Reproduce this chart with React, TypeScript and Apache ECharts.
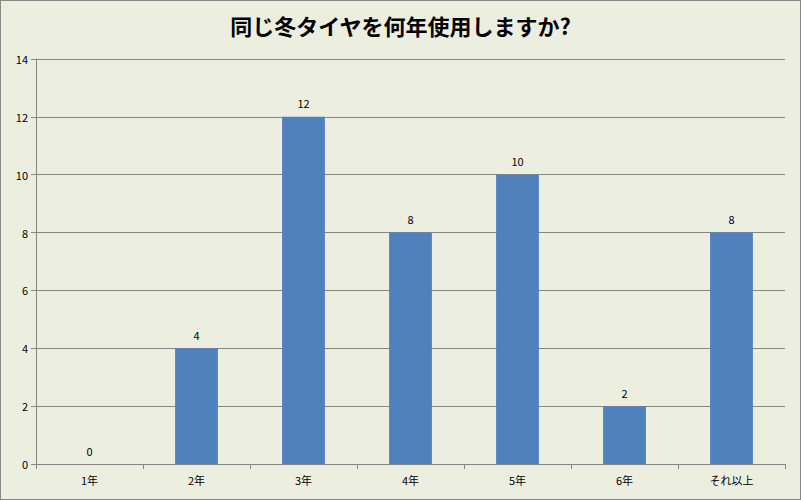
import { useEffect, useRef } from 'react';
import * as echarts from 'echarts';

const categories = ['1年', '2年', '3年', '4年', '5年', '6年', 'それ以上'];
const counts = [0, 4, 12, 8, 10, 2, 8];
const titleText = '同じ冬タイヤを何年使用しますか?';

const FONT = '"Noto Sans CJK JP", "DejaVu Sans", sans-serif';
const AXIS_COLOR = '#868686';

export default function App() {
  const chartRef = useRef<HTMLDivElement>(null);

  useEffect(() => {
    document.body.style.margin = '0';
    if (!chartRef.current) return;
    const chart = echarts.init(chartRef.current, undefined, { renderer: 'svg' });

    const option: echarts.EChartsOption = {
      animation: false,
      backgroundColor: '#ecefe0',
      title: {
        text: titleText,
        left: 'center',
        top: 8,
        textStyle: { fontFamily: FONT, fontSize: 22, fontWeight: 'bold', color: '#000' },
      },
      grid: { left: 35, right: 15, top: 58, bottom: 35, containLabel: false },
      xAxis: {
        type: 'category',
        data: categories,
        axisLine: { lineStyle: { color: AXIS_COLOR } },
        axisTick: { show: true, alignWithLabel: false, length: 5, lineStyle: { color: AXIS_COLOR } },
        axisLabel: { fontFamily: FONT, fontSize: 11, color: '#000', margin: 10 },
      },
      yAxis: {
        type: 'value',
        min: 0,
        max: 14,
        interval: 2,
        axisLine: { show: true, lineStyle: { color: AXIS_COLOR } },
        axisTick: { show: true, length: 5, lineStyle: { color: AXIS_COLOR } },
        axisLabel: { fontFamily: FONT, fontSize: 11, color: '#000', margin: 8 },
        splitLine: { lineStyle: { color: AXIS_COLOR } },
      },
      series: [
        {
          type: 'bar',
          data: counts,
          barWidth: '40%',
          itemStyle: { color: '#4f81bd' },
          label: {
            show: true,
            position: 'top',
            distance: 8,
            fontFamily: FONT,
            fontSize: 11,
            color: '#000',
          },
        },
      ],
    };
    chart.setOption(option);
    return () => chart.dispose();
  }, []);

  return (
    <div
      style={{
        width: 801,
        height: 500,
        boxSizing: 'border-box',
        border: '1px solid #888888',
      }}
    >
      <div ref={chartRef} style={{ width: 799, height: 498 }} />
    </div>
  );
}
